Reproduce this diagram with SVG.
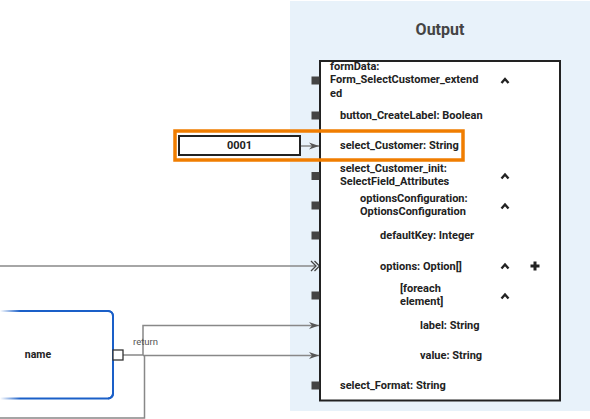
<svg xmlns="http://www.w3.org/2000/svg" width="590" height="419" viewBox="0 0 590 419">
<defs>
<style>
.t{font-family:Roboto,"Liberation Sans",sans-serif;font-size:11px;font-weight:bold;fill:#222}
.c{fill:none;stroke:#888;stroke-width:1.5}
.port{fill:#444}
.chev{fill:none;stroke:#222;stroke-width:2.4;stroke-linecap:butt;stroke-linejoin:miter}
</style>
<marker id="arr" viewBox="0 0 10 10" refX="10" refY="5" markerWidth="10" markerHeight="10" markerUnits="userSpaceOnUse" orient="auto">
<path d="M0,1.5 L10,5 L0,8.5 L3,5 Z" fill="#555"/>
</marker>
<linearGradient id="fade" x1="0" y1="0" x2="1" y2="0">
<stop offset="0" stop-color="#1a5fc8" stop-opacity="0"/>
<stop offset="0.18" stop-color="#1a5fc8" stop-opacity="1"/>
<stop offset="1" stop-color="#1a5fc8"/>
</linearGradient>
</defs>
<rect x="290" y="1" width="300" height="410" fill="#e8f2fa"/>
<text x="440" y="35" text-anchor="middle" style="font-family:Roboto,'Liberation Sans',sans-serif;font-size:16px;font-weight:bold;fill:#444">Output</text>

<g id="connectors">
<line class="c" x1="0" y1="266" x2="316" y2="266"/>
<path d="M311,261 L316,266 L311,271 M314.5,261 L319.5,266 L314.5,271" fill="none" stroke="#444" stroke-width="1.3"/>
<line class="c" x1="300" y1="146" x2="319" y2="146" marker-end="url(#arr)"/>
<path class="c" d="M123,355 H143 V325.5 H319" marker-end="url(#arr)"/>
<path class="c" d="M143,355.5 H319" marker-end="url(#arr)"/>
<path class="c" d="M144.5,355.5 V418 H0"/>
<text x="133" y="344.5" style="font-family:Roboto,'Liberation Sans',sans-serif;font-size:9.5px;fill:#555">return</text>
</g>

<g id="output">
<rect x="320" y="61" width="240" height="339.5" fill="#fff" stroke="#222" stroke-width="2"/>
<rect class="port" x="311.5" y="76.5" width="8" height="8"/>
<rect class="port" x="311.5" y="111.5" width="8" height="8"/>
<rect class="port" x="311.5" y="172" width="8" height="8"/>
<rect class="port" x="311.5" y="201.5" width="8" height="8"/>
<rect class="port" x="311.5" y="231.5" width="8" height="8"/>
<rect class="port" x="311.5" y="291.5" width="8" height="8"/>
<rect class="port" x="311.5" y="381.5" width="8" height="8"/>
<text class="t" x="330" y="70">formData:</text>
<text class="t" x="330" y="83.3">Form_SelectCustomer_extend</text>
<text class="t" x="330" y="96.7">ed</text>
<text class="t" x="340" y="119">button_CreateLabel: Boolean</text>
<text class="t" x="340" y="149">select_Customer: String</text>
<text class="t" x="340" y="172">select_Customer_init:</text>
<text class="t" x="340" y="185">SelectField_Attributes</text>
<text class="t" x="360" y="202">optionsConfiguration:</text>
<text class="t" x="360" y="215">OptionsConfiguration</text>
<text class="t" x="380" y="239.3">defaultKey: Integer</text>
<text class="t" x="380" y="269.5">options: Option[]</text>
<text class="t" x="400" y="291.7">[foreach</text>
<text class="t" x="400" y="305">element]</text>
<text class="t" x="420" y="328.5">label: String</text>
<text class="t" x="420" y="358.5">value: String</text>
<text class="t" x="340" y="389">select_Format: String</text>
<path class="chev" d="M501.5,83 L505,79 L508.5,83"/>
<path class="chev" d="M501.5,178.5 L505,174.5 L508.5,178.5"/>
<path class="chev" d="M501.5,208.5 L505,204.5 L508.5,208.5"/>
<path class="chev" d="M501.5,268.5 L505,264.5 L508.5,268.5"/>
<path class="chev" d="M501.5,298.5 L505,294.5 L508.5,298.5"/>
<path d="M533.5,261.5 h3 v3 h3 v3 h-3 v3 h-3 v-3 h-3 v-3 h3 z" fill="#222"/>
</g>

<g id="highlight">
<rect x="175" y="131" width="288" height="29" fill="none" stroke="#f07d00" stroke-width="3.5"/>
</g>

<g id="value-0001">
<rect x="179" y="136" width="121" height="19" fill="#fff" stroke="#222" stroke-width="2"/>
<text class="t" x="239.5" y="149" text-anchor="middle">0001</text>
</g>

<g id="name-node">
<path d="M0,311 H108 A5,5 0 0 1 113,316 V393.5 A5,5 0 0 1 108,398.5 H0" fill="#fff" stroke="url(#fade)" stroke-width="2"/>
<path d="M108,311 A5,5 0 0 1 113,316 V393.5 A5,5 0 0 1 108,398.5" fill="none" stroke="#1a5fc8" stroke-width="2"/>
<text class="t" x="38" y="357.5" text-anchor="middle" style="font-size:10.5px">name</text>
<rect x="113" y="350" width="10" height="10" fill="#fff" stroke="#333" stroke-width="1.3"/>
</g>
</svg>
